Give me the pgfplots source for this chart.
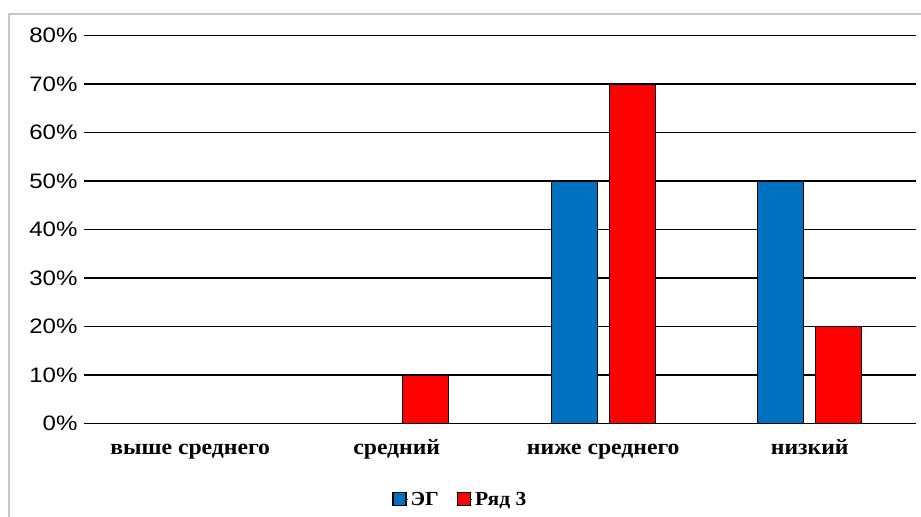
\documentclass[border=0pt]{standalone}
\usepackage{fontspec}
\setmainfont{Liberation Serif}
\newfontfamily\labelfont[FakeStretch=1.08]{Liberation Serif Bold}
\newfontfamily\tickfont[FakeStretch=1.15]{Liberation Sans}
\usepackage{pgfplots}
\pgfplotsset{compat=1.18}
\definecolor{egblue}{HTML}{0070C0}
\definecolor{rowred}{HTML}{FF0000}
\definecolor{framegray}{HTML}{C8C8C8}

\begin{document}
\begin{tikzpicture}
\useasboundingbox (0,0) rectangle (921bp,-517bp);
% chart frame (left and top edges)
\draw[framegray, line width=1.5bp] (9bp,-517bp) -- (9bp,-14bp) -- (921bp,-14bp);
\begin{axis}[
  at={(87bp,-423.5bp)}, anchor=south west,
  scale only axis,
  width=826bp, height=388bp,
  xmin=-0.5, xmax=3.5,
  ymin=0, ymax=80,
  xtick={0,1,2,3},
  xticklabels={выше среднего, средний, ниже среднего, низкий},
  ytick={0,10,...,80},
  yticklabel={\pgfmathprintnumber{\tick}\%},
  /pgf/number format/assume math mode=true,
  axis line style={draw=none},
  x tick style={draw=none},
  y tick style={draw=black, line width=1.5bp},
  major tick length=3bp,
  tick align=outside,
  ymajorgrids,
  grid style={black, line width=1.5bp},
  yticklabel style={font=\tickfont\fontsize{21}{25}\selectfont, xshift=-3bp},
  xticklabel style={font=\labelfont\fontsize{22}{26}\selectfont, anchor=base, yshift=-27.5bp},
  ybar, bar width=46bp,
  legend columns=2,
  legend style={draw=none, at={(0.452,-0.195)}, anchor=center,
    font=\labelfont\fontsize{20}{24}\selectfont,
    /tikz/every even column/.append style={column sep=16bp}},
  legend image code/.code={%
    \path (0bp,0bp) -- (15bp,0bp);
    \draw[#1, draw=black, line width=1.2bp] (0bp,-6.5bp) rectangle (13bp,6.5bp);},
]
\addplot[fill=egblue, draw=black, line width=1.2bp, bar shift=-29bp]
  coordinates {(0,0) (1,0) (2,50) (3,50)};
\addplot[fill=rowred, draw=black, line width=1.2bp, bar shift=29bp]
  coordinates {(0,0) (1,10) (2,70) (3,20)};
\legend{ЭГ, Ряд 3}
\end{axis}
\end{tikzpicture}
\end{document}
